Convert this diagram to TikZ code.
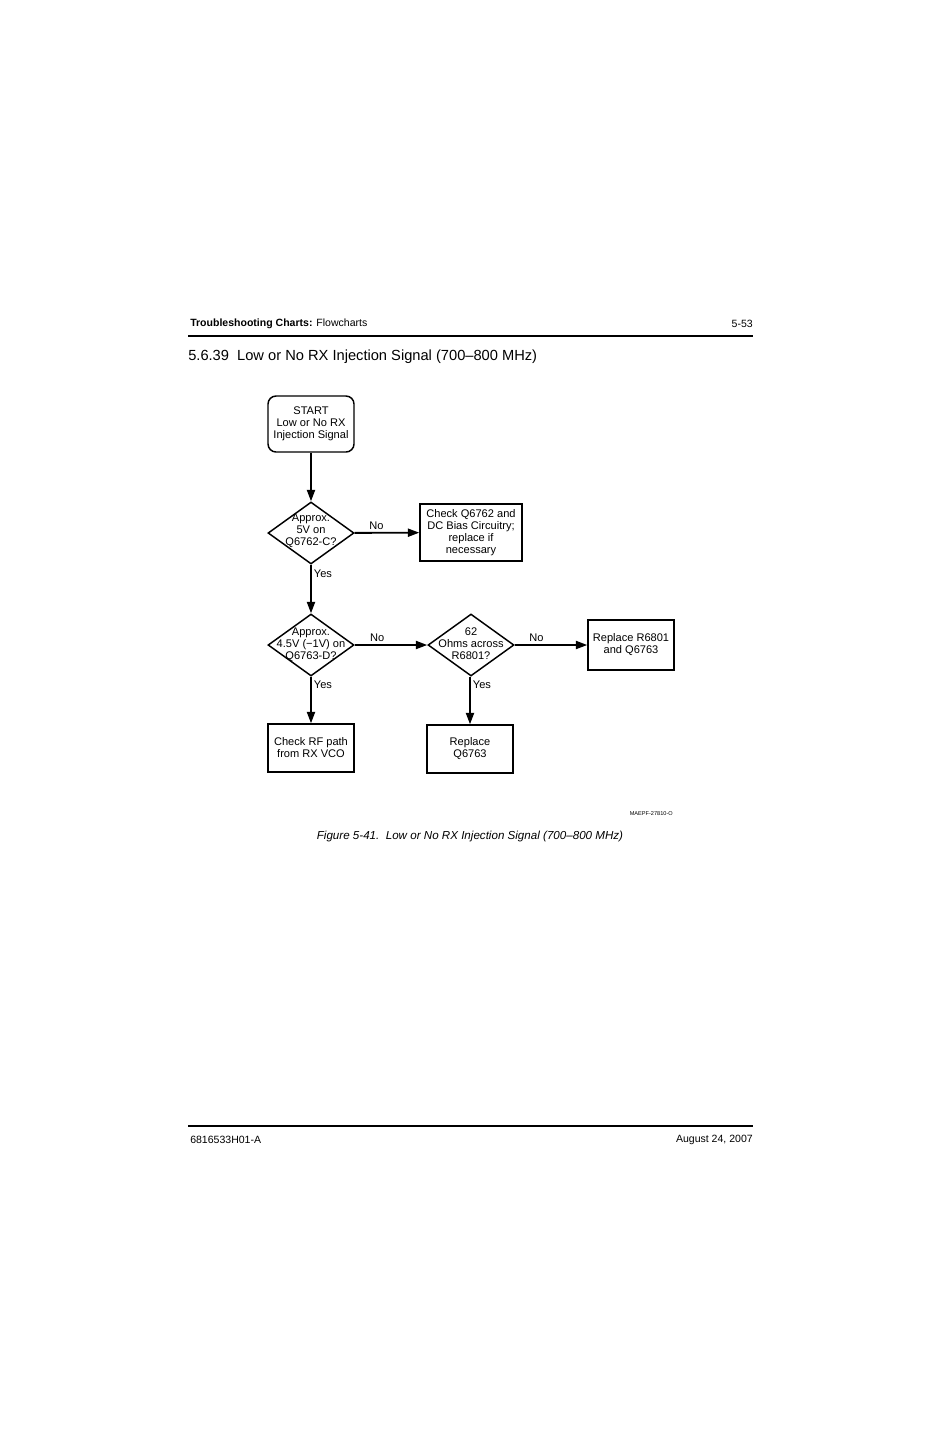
\documentclass[tikz,border=0pt]{standalone}
\usepackage{fontspec}
\setmainfont{Liberation Sans}
\usetikzlibrary{shapes.geometric,arrows.meta}
\tikzset{
    boxtext/.style={font=\fontsize{8.3}{9}\selectfont, align=center},
    stepbox/.style={draw, line width=1.1pt, inner sep=0pt, boxtext},
    startbox/.style={stepbox, rounded corners=6pt},
    decision/.style={draw, diamond, line width=1.1pt, inner sep=0pt,
        minimum width=64.5pt, minimum height=46.5pt},
    arr/.style={line width=1.4pt, -{Triangle[length=8.5pt,width=6pt]}},
    lbl/.style={font=\fontsize{8.3}{9}\selectfont, inner sep=1.5pt}
}
\begin{document}
\begin{tikzpicture}[x=0.75pt,y=-0.75pt]
    \useasboundingbox[fill=white] (0,0) rectangle (926,1431);

    %draws page header and footer:
    \node[anchor=west, inner sep=0pt, font=\fontsize{7.9}{9}\selectfont] (head) at (190,323.5)
        {\textbf{Troubleshooting Charts:} Flowcharts};
    \node[anchor=east, inner sep=0pt, font=\fontsize{7.9}{9}\selectfont] (pagenum) at (753,323.5) {5-53};
    \draw[line width=1.5pt] (188,336) -- (753,336);
    \node[anchor=west, inner sep=0pt, font=\fontsize{11}{13}\selectfont] (title) at (188,357)
        {5.6.39\ \ Low or No RX Injection Signal (700--800 MHz)};

    \draw[line width=1.5pt] (188,1126) -- (753,1126);
    \node[anchor=west, inner sep=0pt, font=\fontsize{7.9}{9}\selectfont] (docnum) at (190,1139.5) {6816533H01-A};
    \node[anchor=east, inner sep=0pt, font=\fontsize{7.9}{9}\selectfont] (date) at (753,1139.5) {August 24, 2007};

    %draws flowchart nodes:
    \node[startbox, minimum width=64.5pt, minimum height=42pt] (start) at (311,424)
        {START\\Low or No RX\\Injection Signal};

    \node[decision] (dfive) at (311,533) {};
    \node[boxtext] (dfivetxt) at (311,531) {Approx.\\5V on\\Q6762-C?};
    \node[stepbox, minimum width=76.5pt, minimum height=42.75pt] (chkbias) at (471,532.5)
        {Check Q6762 and\\DC Bias Circuitry;\\replace if\\necessary};

    \node[decision] (dfour) at (311,645) {};
    \node[boxtext] (dfourtxt) at (311,645) {Approx.\\4.5V (\textminus1V) on\\Q6763-D?};
    \node[decision] (dohms) at (471,645) {};
    \node[boxtext] (dohmstxt) at (471,644) {62\\Ohms across\\R6801?};
    \node[stepbox, minimum width=64.5pt, minimum height=37.5pt] (replboth) at (631,645)
        {Replace R6801\\and Q6763};

    \node[stepbox, minimum width=64.5pt, minimum height=36pt] (chkrf) at (311,748)
        {Check RF path\\from RX VCO};
    \node[stepbox, minimum width=64.5pt, minimum height=36pt] (replq) at (470,749)
        {Replace\\Q6763};

    %draws connectors:
    \draw[arr] (start) -- (dfive);
    \draw[arr] (dfive) -- node[lbl, above, pos=0.34] (nofive) {No} (chkbias);
    \draw[arr] (dfive) -- node[lbl, right, pos=0.18] (yesfive) {Yes} (dfour);
    \draw[arr] (dfour) -- node[lbl, above, pos=0.31] (nofour) {No} (dohms);
    \draw[arr] (dfour) -- node[lbl, right, pos=0.17] (yesfour) {Yes} (chkrf);
    \draw[arr] (dohms) -- node[lbl, above, pos=0.3] (noohms) {No} (replboth);
    \draw[arr] (dohms.south -| replq) -- node[lbl, right, pos=0.17] (yesohms) {Yes} (replq);

    %draws figure id and caption:
    \node[anchor=east, inner sep=0pt, font=\fontsize{4.2}{5}\selectfont] (figid) at (673,814) {MAEPF-27810-O};
    \node[inner sep=0pt, font=\fontsize{8.7}{10}\selectfont\itshape] (caption) at (470,836)
        {Figure 5-41.\ \ Low or No RX Injection Signal (700--800 MHz)};
\end{tikzpicture}
\end{document}
